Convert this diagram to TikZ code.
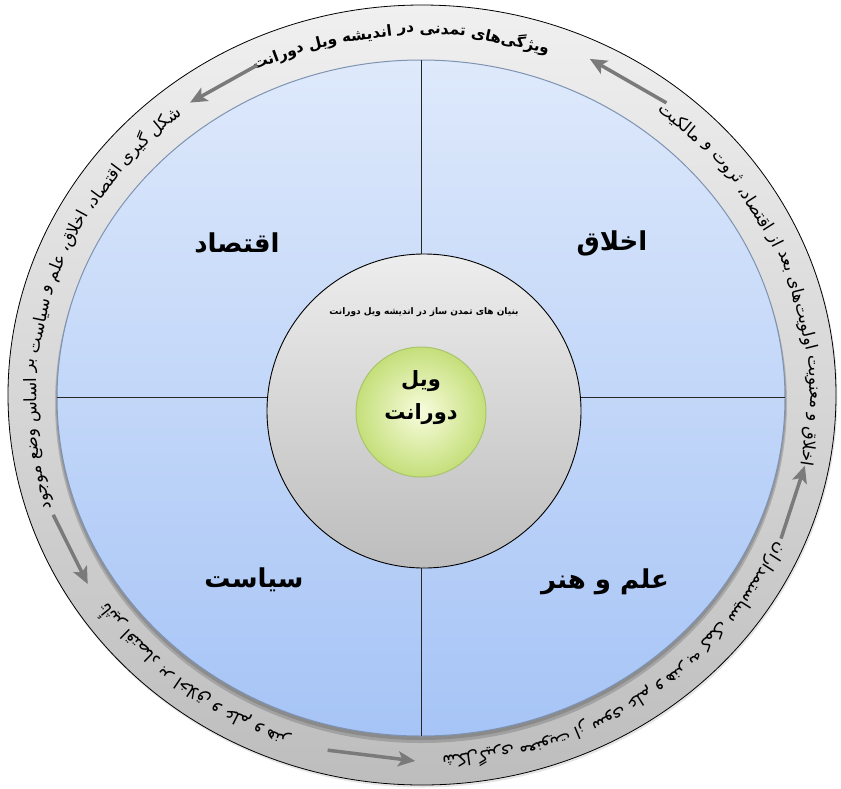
\documentclass[tikz,border=0pt]{standalone}
\usepackage{fontspec}
\TeXXeTstate=1
\newfontfamily\fa[Script=Arabic]{DejaVu Sans}
\usetikzlibrary{arrows.meta}
\definecolor{ringtop}{HTML}{F0F0F0}
\definecolor{ringbot}{HTML}{BDBDBD}
\definecolor{bluetop}{HTML}{DEE9FB}
\definecolor{bluebot}{HTML}{A6C4F6}
\definecolor{blueedge}{HTML}{7E93B2}
\definecolor{coretop}{HTML}{EDEDED}
\definecolor{corebot}{HTML}{BDBDBD}
\definecolor{greenin}{HTML}{F7FCDD}
\definecolor{greenout}{HTML}{C5DF7A}
\definecolor{greenedge}{HTML}{A8C56C}
\definecolor{arrowgray}{HTML}{7A7A7A}
\def\wordgap{5.5}
\def\topfont{\fa\bfseries\fontsize{15.3}{18}\selectfont}
\def\ringfont{\fa\fontsize{17}{19}\selectfont}
\def\wordsT{ویژگی^^^^200cهای,تمدنی,در,اندیشه,ویل,دورانت}
\def\wordsL{شکل,گیری,اقتصاد،,اخلاق،,علم,و,سیاست,بر,اساس,وضع,موجود}
\def\wordsB{تأثیر,اقتصاد,بر,اخلاق,و,علم,و,هنر}
\def\wordsC{شکل^^^^200cگیری,معنویت,از,سوی,علم,و,هنر,به,کمک,سیاستمداران}
\def\wordsR{اخلاق,و,معنویت,اولویت^^^^200cهای,بعد,از,اقتصاد،,ثروت,و,مالکیت}
% measure word widths outside the picture (fonts are live here)
\newcommand\measurewords[3]{%
  \foreach \w [count=\i] in #3{%
    \setbox0=\hbox{#2\beginR\w\endR}%
    \expandafter\xdef\csname W#1@\i\endcsname{\the\wd0}%
  }%
}
\newcommand\ringtext[4]{%
  \xdef\curphi{#2}%
  \foreach \w [count=\i] in #4{%
    \edef\wl{\csname W#1@\i\endcsname}%
    \pgfmathsetmacro\dsd{veclen(3.90*sin(\curphi),3.65*cos(\curphi))*100*pi/180}%
    \pgfmathsetmacro\ph{\curphi+0.5*\wl/\dsd}%
    \pgfmathsetmacro\px{422+390*cos(\ph)}%
    \pgfmathsetmacro\py{396-365*sin(\ph)}%
    \pgfmathsetmacro\rot{atan2(-3.65*cos(\ph),3.90*sin(\ph))}%
    \node[ringlbl,rotate=\rot] (#1\i) at (\px,\py) {#3\beginR\w\endR};%
    \pgfmathsetmacro\nxt{\ph+(0.5*\wl+\wordgap)/\dsd}%
    \xdef\curphi{\nxt}%
  }%
}
% point on an ellipse around the centre: name, angle, x radius, y radius
\newcommand\ringpt[4]{%
  \pgfmathsetmacro\px{422+#3*cos(#2)}%
  \pgfmathsetmacro\py{396-#4*sin(#2)}%
  \coordinate (#1) at (\px,\py);%
}
\begin{document}%
\measurewords{t}{\topfont}{\wordsT}%
\measurewords{l}{\ringfont}{\wordsL}%
\measurewords{b}{\ringfont}{\wordsB}%
\measurewords{c}{\ringfont}{\wordsC}%
\measurewords{r}{\ringfont}{\wordsR}%
\begin{tikzpicture}[x=1pt,y=-1pt,
  ringlbl/.style={inner sep=0pt, anchor=center, text=black},
  quadlbl/.style={font=\fa\bfseries\fontsize{26}{30}\selectfont, inner sep=0pt},
  ringarrow/.style={draw=arrowgray, line width=3.5pt, -{Stealth[length=17pt,width=15pt,inset=4pt]}},
  divider/.style={draw=black!85, line width=0.9pt}]
\fill[white] (0,0) rectangle (841,788);
\useasboundingbox (0,0) rectangle (841,788);
% outer ring
\fill[black,opacity=0.10] (423,397) ellipse [x radius=414.5, y radius=390.5];
\path[draw=black, line width=0.8pt, top color=ringtop, bottom color=ringbot] (422,395) ellipse [x radius=414, y radius=390];
% blue disc
\fill[black,opacity=0.16] (421,403) ellipse [x radius=366, y radius=340];
\fill[black,opacity=0.14] (421,401) ellipse [x radius=365, y radius=339];
\path[draw=blueedge, line width=1pt, top color=bluetop, bottom color=bluebot] (421,398) ellipse [x radius=364, y radius=338];
% dividers
\coordinate (vt) at (421,60);
\coordinate (vb) at (421,736);
\coordinate (hl) at (57,397);
\coordinate (hr) at (785,397);
\draw[divider] (vt) -- (vb);
\draw[divider] (hl) -- (hr);
% core
\node[circle, draw=black, line width=0.9pt, top color=coretop, bottom color=corebot, minimum size=314pt, inner sep=0pt] (core) at (424,411) {};
\node[font=\fa\bfseries\fontsize{9}{11}\selectfont, inner sep=0pt] (base) at (424,312) {\beginR بنیان های تمدن ساز در اندیشه ویل دورانت\endR};
\node[circle, draw=greenedge, line width=1pt, inner color=greenin, outer color=greenout, minimum size=130pt, inner sep=0pt] (wd) at (421,412) {};
\node[align=center, inner sep=0pt, font=\fa\bfseries\fontsize{21}{33}\selectfont] (wdt) at (421,398) {\beginR ویل\endR\\\beginR دورانت\endR};
% quadrant labels
\node[quadlbl] (q1) at (612,243) {\beginR اخلاق\endR};
\node[quadlbl] (q2) at (237,243) {\beginR اقتصاد\endR};
\node[quadlbl] (q3) at (254,580) {\beginR سیاست\endR};
\node[quadlbl] (q4) at (605,582) {\beginR علم و هنر\endR};
% ring texts
\ringtext{t}{71}{\topfont}{\wordsT}
\ringtext{l}{128.5}{\ringfont}{\wordsL}
\ringtext{b}{215}{\ringfont}{\wordsB}
\ringtext{c}{273}{\ringfont}{\wordsC}
\ringtext{r}{-11}{\ringfont}{\wordsR}
% arrows
\ringpt{a1s}{52}{397}{372}\ringpt{a1e}{65}{397}{372}
\ringpt{a2s}{115}{390}{365}\ringpt{a2e}{126.5}{390}{365}
\ringpt{a3s}{199}{390}{365}\ringpt{a3e}{211}{390}{365}
\ringpt{a4s}{256}{390}{365}\ringpt{a4e}{269}{390}{365}
\ringpt{a5s}{337}{390}{365}\ringpt{a5e}{349}{390}{365}
\draw[ringarrow] (a1s) -- (a1e);
\draw[ringarrow] (a2s) -- (a2e);
\draw[ringarrow] (a3s) -- (a3e);
\draw[ringarrow] (a4s) -- (a4e);
\draw[ringarrow] (a5s) -- (a5e);
\end{tikzpicture}%
\end{document}
